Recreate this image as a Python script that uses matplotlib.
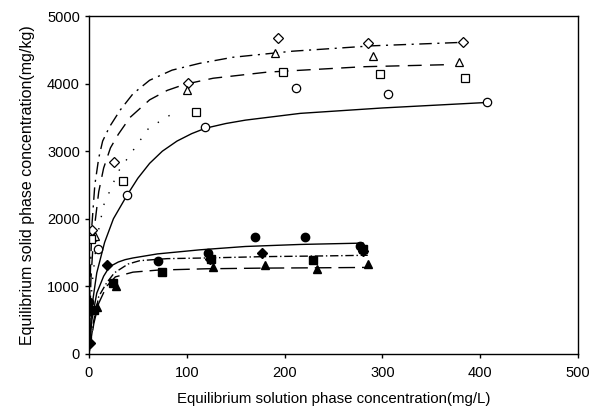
import matplotlib
matplotlib.use("Agg")
import matplotlib.pyplot as plt

plt.rcParams['font.family'] = ['Liberation Sans', 'DejaVu Sans']

# measured points, upper group (open markers)
dia_open_x = [3, 26, 101, 193, 285, 382]
dia_open_y = [1830, 2840, 4010, 4670, 4600, 4615]
tri_open_x = [6, 100, 190, 290, 378]
tri_open_y = [1740, 3900, 4450, 4410, 4320]
sq_open_x = [2, 35, 109, 198, 297, 384]
sq_open_y = [1700, 2560, 3580, 4170, 4140, 4080]
circ_open_x = [9, 39, 119, 212, 306, 407]
circ_open_y = [1560, 2350, 3360, 3930, 3840, 3730]

# lower group (filled markers)
circ_fill_x = [0, 71, 122, 170, 221, 277]
circ_fill_y = [770, 1380, 1490, 1730, 1730, 1600]
dia_fill_x = [1, 18, 124, 177, 280]
dia_fill_y = [160, 1310, 1400, 1490, 1520]
sq_fill_x = [5, 25, 75, 125, 229, 280]
sq_fill_y = [650, 1050, 1210, 1410, 1390, 1550]
tri_fill_x = [8, 28, 127, 180, 233, 285]
tri_fill_y = [700, 1000, 1290, 1310, 1250, 1330]

# fitted curves
fitA_x = [0, 1, 3, 6, 10, 14, 21, 32, 45, 62, 85, 113, 147, 208, 290, 380]
fitA_y = [0, 1000, 1900, 2500, 2900, 3150, 3360, 3610, 3850, 4050, 4200, 4300, 4390, 4480, 4560, 4610]
fitB_x = [0, 2, 5, 10, 15, 22, 30, 42, 62, 80, 98, 127, 182, 280, 364]
fitB_y = [0, 1100, 1800, 2400, 2750, 3050, 3250, 3500, 3760, 3900, 3990, 4080, 4170, 4250, 4280]
fitC_x = [0, 3, 8, 16, 25, 39, 50, 62, 75, 90, 105, 119, 140, 160, 216, 300, 405]
fitC_y = [0, 700, 1200, 1650, 2000, 2350, 2600, 2820, 3000, 3150, 3260, 3340, 3410, 3460, 3560, 3640, 3720]
fitD_x = [0, 3, 8, 15, 30, 61, 83]
fitD_y = [0, 1000, 1700, 2200, 2700, 3340, 3535]

fitE_x = [0, 3, 8, 15, 21, 30, 37, 45, 70, 113, 160, 216, 280]
fitE_y = [0, 500, 900, 1150, 1290, 1360, 1395, 1420, 1480, 1540, 1590, 1620, 1640]
fitF_x = [0, 5, 10, 18, 26, 40, 52, 80, 120, 180, 240, 285]
fitF_y = [0, 500, 850, 1050, 1200, 1330, 1380, 1410, 1420, 1440, 1450, 1460]
fitG_x = [0, 5, 10, 18, 27, 45, 70, 120, 180, 240, 285]
fitG_y = [0, 450, 750, 1000, 1140, 1210, 1240, 1260, 1270, 1275, 1280]

fig = plt.figure(figsize=(6.01, 4.12), dpi=100)
ax = fig.add_axes([0.148, 0.141, 0.814, 0.820])

lw = 1.0
ax.plot(fitA_x, fitA_y, color='black', lw=lw, dashes=(9, 4, 1.5, 4))
ax.plot(fitB_x, fitB_y, color='black', lw=lw, dashes=(10, 6))
ax.plot(fitC_x, fitC_y, color='black', lw=lw)
ax.plot(fitD_x, fitD_y, color='black', lw=lw, dashes=(1, 8))
ax.plot(fitE_x, fitE_y, color='black', lw=lw)
ax.plot(fitF_x, fitF_y, color='black', lw=lw, dashes=(6, 2, 1, 2))
ax.plot(fitG_x, fitG_y, color='black', lw=lw, dashes=(12, 5))

ms = 6
ax.plot(dia_open_x, dia_open_y, 'D', ms=5, mfc='white', mec='black', mew=0.9, ls='none')
ax.plot(tri_open_x, tri_open_y, '^', ms=ms, mfc='white', mec='black', mew=0.9, ls='none')
ax.plot(sq_open_x, sq_open_y, 's', ms=ms, mfc='white', mec='black', mew=0.9, ls='none')
ax.plot(circ_open_x, circ_open_y, 'o', ms=ms, mfc='white', mec='black', mew=0.9, ls='none')

ax.plot(circ_fill_x, circ_fill_y, 'o', ms=ms, color='black', ls='none')
ax.plot(dia_fill_x, dia_fill_y, 'D', ms=5, color='black', ls='none')
ax.plot(sq_fill_x, sq_fill_y, 's', ms=ms, color='black', ls='none')
ax.plot(tri_fill_x, tri_fill_y, '^', ms=ms, color='black', ls='none')

ax.set_xlim(0, 500)
ax.set_ylim(0, 5000)
ax.set_xticks([0, 100, 200, 300, 400, 500])
ax.set_yticks([0, 1000, 2000, 3000, 4000, 5000])
ax.tick_params(direction='out', length=3, width=1, labelsize=10.5)
ax.tick_params(axis='x', pad=6)
for s in ax.spines.values():
    s.set_linewidth(1.0)

ax.set_xlabel('Equilibrium solution phase concentration(mg/L)', fontsize=10.8, labelpad=8)
ax.set_ylabel('Equilibrium solid phase concentration(mg/kg)', fontsize=11.5, labelpad=9)

fig.savefig('out.png', dpi=100)
